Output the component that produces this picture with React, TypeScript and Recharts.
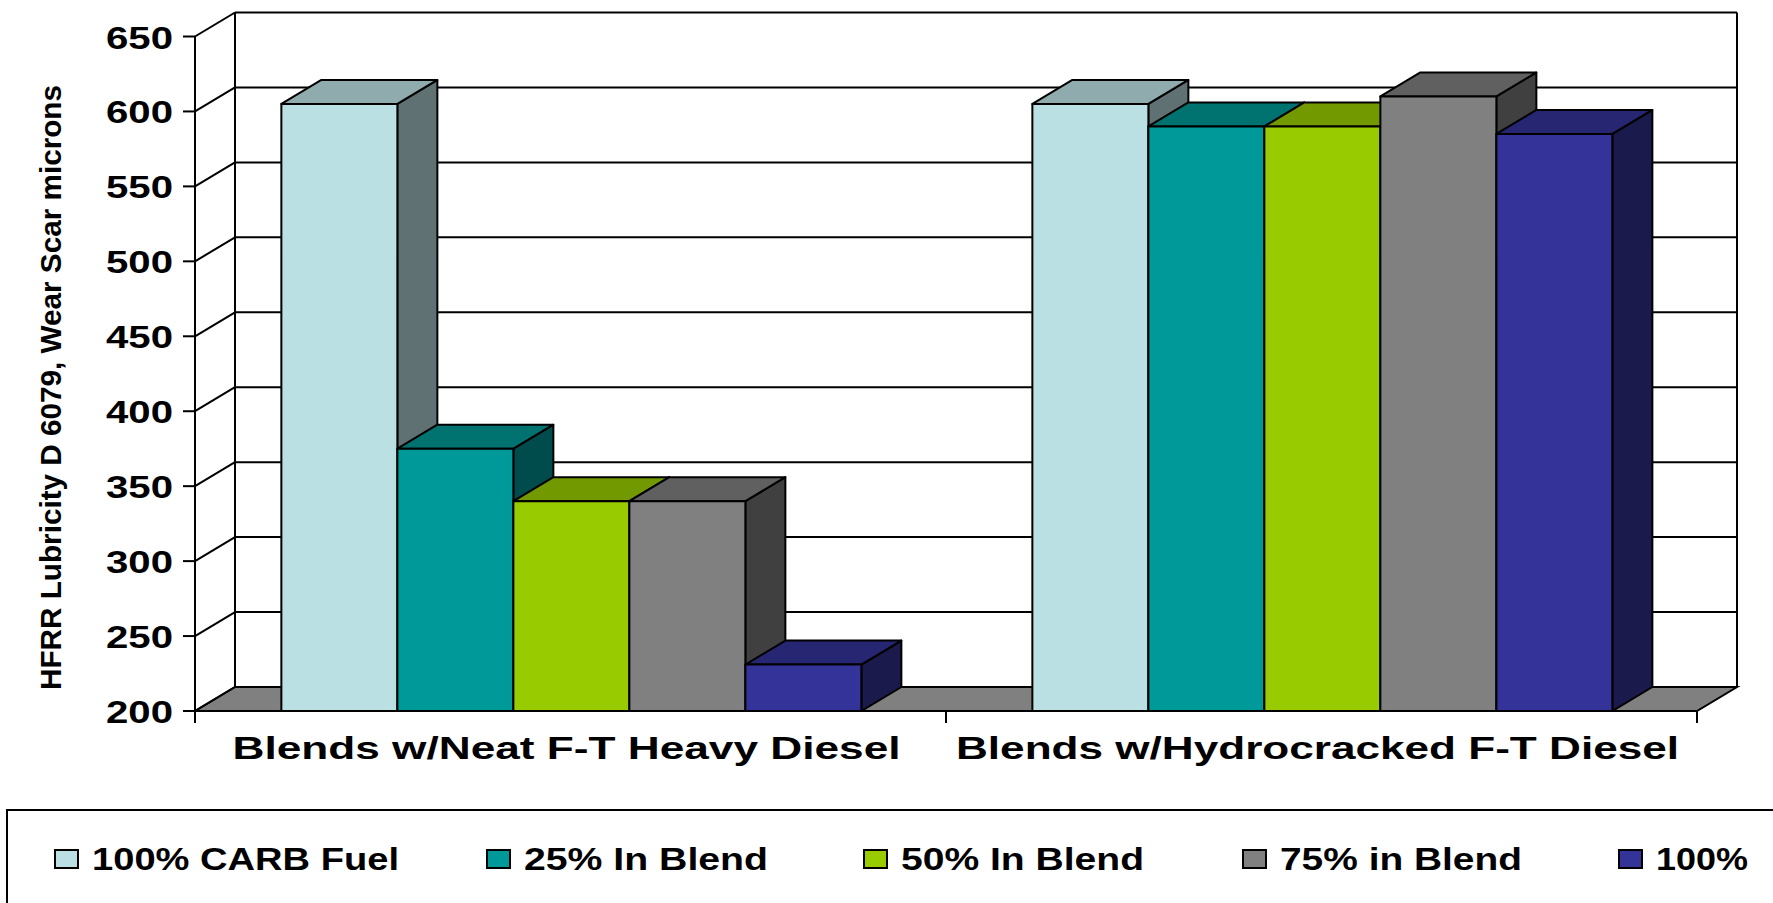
import React from 'react';
import { BarChart, Bar, XAxis, YAxis, CartesianGrid, Legend } from 'recharts';

// ---------- data ----------
const categories = ['Blends w/Neat F-T Heavy Diesel', 'Blends w/Hydrocracked F-T Diesel'];
const carbFuel = [605, 605];
const blend25 = [375, 590];
const blend50 = [340, 590];
const blend75 = [340, 610];
const blend100 = [231, 585];
const yTicks = [200, 250, 300, 350, 400, 450, 500, 550, 600, 650];
const seriesNames = ['100% CARB Fuel', '25% In Blend', '50% In Blend', '75% in Blend', '100%'];
const yAxisTitle = 'HFRR Lubricity D 6079, Wear Scar microns';

const data = categories.map((c, i) => ({
  category: c,
  carb: carbFuel[i],
  b25: blend25[i],
  b50: blend50[i],
  b75: blend75[i],
  b100: blend100[i],
}));

// ---------- styles ----------
const SERIES = [
  { key: 'carb', front: '#BBE0E3', top: '#8FABAD', side: '#5F7173' },
  { key: 'b25', front: '#009999', top: '#007270', side: '#004C4C' },
  { key: 'b50', front: '#99CC00', top: '#729900', side: '#4C6600' },
  { key: 'b75', front: '#808080', top: '#606060', side: '#404040' },
  { key: 'b100', front: '#333399', top: '#262673', side: '#1A1A4D' },
];
const DX = 40;
const DY = -24;
const FONT = '"Liberation Sans", Arial, Helvetica, sans-serif';
const XLABEL_W = [668, 723];
const LEGEND_SQ_X = [49, 481, 858, 1237, 1613];
const LEGEND_TEXT_W = [307, 244, 243, 242, 92];

const makeShape = (s: any) => (props: any) => {
  const { x, y, width: w, height: h } = props;
  if (w == null || h == null || isNaN(x) || isNaN(y)) return <g />;
  return (
    <g stroke="#000" strokeWidth={2} strokeLinejoin="round">
      <polygon
        points={`${x + w},${y} ${x + w + DX},${y + DY} ${x + w + DX},${y + h + DY} ${x + w},${y + h}`}
        fill={s.side}
      />
      <polygon
        points={`${x},${y} ${x + DX},${y + DY} ${x + w + DX},${y + DY} ${x + w},${y}`}
        fill={s.top}
      />
      <rect x={x} y={y} width={w} height={h} fill={s.front} />
    </g>
  );
};

const renderGridLine = (p: any) => {
  const { x1, y1, x2, y, height } = p;
  const isFloor = y != null && height != null && Math.abs(y1 - (y + height)) < 0.6;
  return (
    <g key={p.key} stroke="#000" strokeWidth={2}>
      {isFloor && (
        <polygon
          points={`${x1},${y1} ${x2},${y1} ${x2 + DX},${y1 + DY} ${x1 + DX},${y1 + DY}`}
          fill="#808080"
        />
      )}
      {isFloor && <line x1={x1 + DX} y1={y + DY} x2={x1 + DX} y2={y + height + DY} />}
      {isFloor && <line x1={x2 + DX} y1={y + DY} x2={x2 + DX} y2={y + height + DY} />}
      <line x1={x1} y1={y1} x2={x1 + DX} y2={y1 + DY} />
      <line x1={x1 + DX} y1={y1 + DY} x2={x2 + DX} y2={y1 + DY} />
    </g>
  );
};

const YTick = (props: any) => {
  const { x, y, payload } = props;
  return (
    <text
      x={x}
      y={y + 12}
      textAnchor="end"
      fontFamily={FONT}
      fontWeight="bold"
      fontSize={31}
      fill="#000"
      textLength={67}
      lengthAdjust="spacingAndGlyphs"
    >
      {payload.value}
    </text>
  );
};

const XTick = (props: any) => {
  const { x, y, payload, width, visibleTicksCount, index } = props;
  const half = width / visibleTicksCount / 2;
  const axisY = y - 12;
  return (
    <g>
      <line x1={x - half} y1={axisY} x2={x - half} y2={axisY + 12} stroke="#000" strokeWidth={2} />
      <line x1={x + half} y1={axisY} x2={x + half} y2={axisY + 12} stroke="#000" strokeWidth={2} />
      <text
        x={x - 4}
        y={axisY + 48}
        textAnchor="middle"
        fontFamily={FONT}
        fontWeight="bold"
        fontSize={31}
        fill="#000"
        textLength={XLABEL_W[index] ?? 680}
        lengthAdjust="spacingAndGlyphs"
      >
        {payload.value}
      </text>
    </g>
  );
};

const renderYLabel = () => (
  <text
    x={61}
    y={387.5}
    transform="rotate(-90 61 387.5)"
    textAnchor="middle"
    fontFamily={FONT}
    fontWeight="bold"
    fontSize={30}
    fill="#000"
    textLength={605}
    lengthAdjust="spacingAndGlyphs"
  >
    {yAxisTitle}
  </text>
);

const renderLegend = (props: any) => {
  const payload = [...(props.payload || [])].sort(
    (a: any, b: any) => seriesNames.indexOf(a.value) - seriesNames.indexOf(b.value)
  );
  return (
    <svg width={1800} height={110} style={{ display: 'block' }}>
      <line x1={0} y1={1} x2={1800} y2={1} stroke="#000" strokeWidth={2} />
      <line x1={1} y1={0} x2={1} y2={110} stroke="#000" strokeWidth={2} />
      {payload.map((e: any) => {
        const i = seriesNames.indexOf(e.value);
        return (
          <g key={e.value}>
            <rect
              x={LEGEND_SQ_X[i]}
              y={41}
              width={23}
              height={18}
              fill={e.color}
              stroke="#000"
              strokeWidth={2}
            />
            <text
              x={LEGEND_SQ_X[i] + 37}
              y={61}
              fontFamily={FONT}
              fontWeight="bold"
              fontSize={31}
              fill="#000"
              textLength={LEGEND_TEXT_W[i]}
              lengthAdjust="spacingAndGlyphs"
            >
              {e.value}
            </text>
          </g>
        );
      })}
    </svg>
  );
};

export default function App() {
  return (
    <div
      style={{
        position: 'absolute',
        left: 0,
        top: 0,
        width: 1773,
        height: 903,
        overflow: 'hidden',
        background: '#fff',
      }}
    >
      <BarChart
        width={1773}
        height={903}
        data={data}
        margin={{ top: 36.5, right: 76, left: 0, bottom: 132 }}
        barCategoryGap="11.5%"
        barGap={0}
      >
        <CartesianGrid horizontal={renderGridLine} vertical={false} />
        <XAxis
          dataKey="category"
          height={60}
          axisLine={{ stroke: '#000', strokeWidth: 2 }}
          tickLine={false}
          tickSize={12}
          tickMargin={0}
          interval={0}
          tick={<XTick />}
        />
        <YAxis
          type="number"
          domain={[200, 650]}
          ticks={yTicks}
          interval={0}
          width={195}
          allowDataOverflow
          axisLine={{ stroke: '#000', strokeWidth: 2 }}
          tickLine={{ stroke: '#000', strokeWidth: 2 }}
          tickSize={12}
          tickMargin={10}
          tick={<YTick />}
          label={{ content: renderYLabel }}
        />
        {SERIES.map((s, i) => (
          <Bar
            key={s.key}
            dataKey={s.key}
            name={seriesNames[i]}
            fill={s.front}
            isAnimationActive={false}
            shape={makeShape(s)}
          />
        ))}
        <Legend
          verticalAlign="middle"
          align="center"
          layout="horizontal"
          itemSorter={null as any}
          content={renderLegend}
          wrapperStyle={{ left: 6, top: 809, width: 1800, height: 110 }}
        />
      </BarChart>
    </div>
  );
}
